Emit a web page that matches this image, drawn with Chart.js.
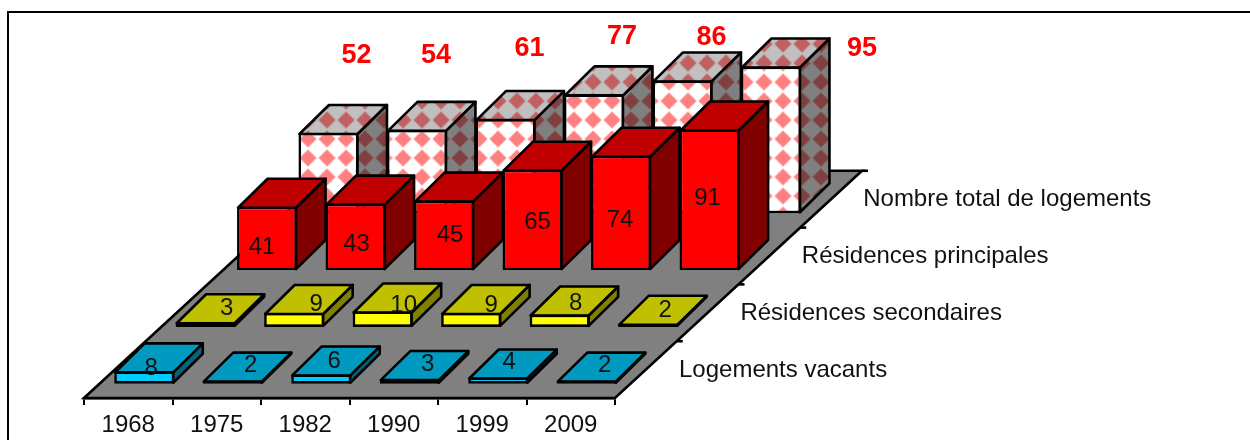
<!DOCTYPE html>
<html>
<head>
<meta charset="utf-8">
<style>html,body{margin:0;padding:0;background:#fff}canvas{display:block}</style>
<script src="https://cdn.jsdelivr.net/npm/chart.js@4"></script>
</head>
<body>
<canvas id="c" width="1250" height="440"></canvas>
<script>
const years = ['1968','1975','1982','1990','1999','2009'];
const seriesNames = ['Logements vacants','Résidences secondaires','Résidences principales','Nombre total de logements'];
const vacants = [8,2,6,3,4,2];
const secondaires = [3,9,10,9,8,2];
const principales = [41,43,45,65,74,91];
const total = [52,54,61,77,86,95];

// Label nudges relative to the front-face centre of each bar
const nudge = [
  [[7,-9],[18,-17],[13,-18],[18,-17],[11,-18],[18,-17]],
  [[21,-16],[22,-16],[21,-14],[20,-15],[16,-17],[17,-15]],
  [[-5,9],[1,7],[6,0],[5,2],[-1,7],[-2,-1]],
  [[28,-77],[19,-74],[24,-71],[28,-58],[29,-43],[91,-18]]
];
const ROW = {dx:61.4, dy:-56.8, x0:16, y0:-14.3};
const DEPTH = {x:29.5, y:-29};
const LINE = 2.6;
const FONT = '"Liberation Sans", Arial, sans-serif';

function diamonds(bg, fg){
  const p = document.createElement('canvas'); p.width = 19; p.height = 19;
  const g = p.getContext('2d');
  g.fillStyle = bg; g.fillRect(0,0,19,19);
  g.filter = 'blur(0.7px)';
  g.fillStyle = fg; g.beginPath();
  g.moveTo(9.5,1); g.lineTo(18,9.5); g.lineTo(9.5,18); g.lineTo(1,9.5); g.closePath(); g.fill();
  const pat = document.getElementById('c').getContext('2d').createPattern(p,'repeat');
  pat.setTransform(new DOMMatrix().translate(3.3,10.2));
  return pat;
}
const faces = [
  {front:'#00ccff', top:'#009ac0', side:'#006680'},
  {front:'#ffff00', top:'#c0c000', side:'#808000'},
  {front:'#ff0000', top:'#c00000', side:'#800000'},
  {front:diamonds('#ffffff','#ff8080'), top:diamonds('#c0c0c0','#c06060'), side:diamonds('#808080','#804040')}
];

function poly(ctx, pts, fill){
  ctx.beginPath();
  pts.forEach((p,i)=> i ? ctx.lineTo(p[0],p[1]) : ctx.moveTo(p[0],p[1]));
  ctx.closePath();
  ctx.fillStyle = fill; ctx.fill();
  ctx.stroke();
}
function rowLabels(chart, i){
  const ctx = chart.ctx, ds = chart.data.datasets[i];
  ctx.save();
  ctx.textAlign = 'center'; ctx.textBaseline = 'middle';
  ctx.font = (i === 3 ? 'bold 27px ' : '24px ') + FONT;
  ctx.fillStyle = i === 3 ? '#ff0000' : '#111';
  chart.getDatasetMeta(i).data.forEach((el,j)=>{
    const y = (i === 3 ? el.y : (el.y + el.base)/2) + nudge[i][j][1];
    ctx.fillText(String(ds.data[j]), el.x + nudge[i][j][0], y);
  });
  ctx.restore();
}

const scene = {
  id:'scene',
  beforeDatasetsDraw(chart){
    const ctx = chart.ctx, x = chart.scales.x, b = chart.scales.y.bottom;
    const n = seriesNames.length, sx = ROW.dx*n + 1.4, sy = ROW.dy*n;
    ctx.save();
    ctx.strokeStyle = '#000'; ctx.lineWidth = 2;
    ctx.beginPath(); ctx.moveTo(8,440); ctx.lineTo(8,12); ctx.lineTo(1250,12); ctx.stroke();
    ctx.lineJoin = 'miter'; ctx.lineWidth = LINE;
    poly(ctx, [[x.left,b],[x.right,b],[x.right+sx,b+sy],[x.left+sx,b+sy]], '#808080');
    ctx.font = '24px '+FONT; ctx.textBaseline = 'middle'; ctx.textAlign = 'left';
    ctx.fillStyle = '#111';
    seriesNames.forEach((name,i)=>{
      const tx = x.right + (i+1)*sx/n, ty = b + (i+1)*sy/n;
      ctx.beginPath(); ctx.moveTo(tx,ty); ctx.lineTo(tx+6,ty); ctx.stroke();
      ctx.fillText(name, x.right + 64 + i*ROW.dx, b - 28 + i*ROW.dy);
    });
    ctx.restore();
  },
  beforeDatasetDraw(chart, args){
    const i = args.index, ctx = chart.ctx, f = faces[i];
    ctx.save();
    ctx.translate(ROW.x0 + i*ROW.dx, ROW.y0 + i*ROW.dy);
    ctx.save();
    ctx.strokeStyle = '#000'; ctx.lineWidth = LINE; ctx.lineJoin = 'round';
    args.meta.data.forEach(el=>{
      const l = el.x - el.width/2 + 1, r = el.x + el.width/2 - 1, t = el.y + 1, bt = el.base - 1;
      const dx = DEPTH.x, dy = DEPTH.y;
      poly(ctx, [[r,t],[r+dx,t+dy],[r+dx,bt+dy],[r,bt]], f.side);
      poly(ctx, [[l,t],[l+dx,t+dy],[r+dx,t+dy],[r,t]], f.top);
    });
    ctx.restore();
    if (i === 1) rowLabels(chart, i);
  },
  afterDatasetDraw(chart, args){
    if (args.index !== 1) rowLabels(chart, args.index);
    chart.ctx.restore();
  }
};

const datasets = [vacants, secondaires, principales, total].map((data,i)=>({
  label: seriesNames[i],
  data,
  backgroundColor: faces[i].front,
  borderColor:'#000',
  borderWidth:LINE,
  borderSkipped:false,
  grouped:false,
  clip:false,
  categoryPercentage:1,
  barPercentage:0.678
}));

new Chart(document.getElementById('c'),{
  type:'bar',
  data:{labels:years, datasets},
  options:{
    responsive:false,
    animation:false,
    events:[],
    layout:{padding:{left:84,right:635,top:243.5,bottom:0}},
    plugins:{legend:{display:false},tooltip:{enabled:false},title:{display:false}},
    scales:{
      x:{
        border:{display:true,color:'#000',width:LINE},
        grid:{drawOnChartArea:false,drawTicks:true,tickLength:7,color:'#000',lineWidth:2,offset:true},
        ticks:{color:'#111',font:{family:FONT,size:24},padding:6,autoSkip:false,maxRotation:0},
        afterFit(s){ s.height = 42; }
      },
      y:{display:false,min:0,max:100}
    }
  },
  plugins:[scene]
});
</script>
</body>
</html>
